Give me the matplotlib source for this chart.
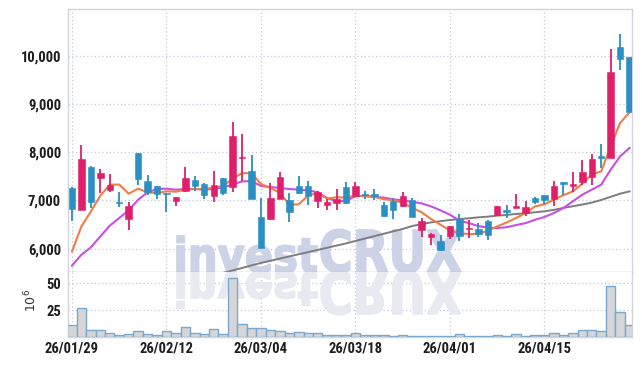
import numpy as np
import matplotlib
matplotlib.use("Agg")
import matplotlib.pyplot as plt
from matplotlib import font_manager as fm
from matplotlib.textpath import TextPath
from matplotlib.font_manager import FontProperties
from matplotlib.patches import PathPatch
from matplotlib.transforms import Affine2D

# ---------------- data ----------------
opens = [7260, 6810, 7700, 7460, 7210, 6960, 6610, 7980, 7410, 7290,
         7150, 6990, 7200, 7420, 7350, 7090, 7465, 7270, 7880, 7620,
         6650, 6620, 7040, 7000, 7300, 7300, 6980, 6905, 6940, 7270,
         7100, 7125, 7135, 6910, 6980, 6880, 7015, 6380, 6235, 6150,
         6255, 6615, 6400, 6415, 6580, 6690, 6810, 6845, 6740, 7057,
         7110, 7030, 7375, 7290, 7375, 7480, 7915, 7890, 10190, 9965]
highs = [7270, 8140, 7710, 7650, 7540, 7170, 6970, 7990, 7530, 7300,
         7160, 7080, 7690, 7510, 7370, 7600, 7470, 8620, 8380, 7950,
         7050, 7360, 7580, 7150, 7500, 7400, 7200, 7030, 7245, 7375,
         7375, 7190, 7240, 6970, 7050, 7175, 7050, 6635, 6320, 6290,
         6480, 6715, 6600, 6530, 6590, 6880, 6910, 7135, 6980, 7065,
         7115, 7395, 7385, 7580, 7830, 7960, 8175, 10140, 10455, 9970]
lows = [6570, 6800, 6840, 7150, 7180, 6860, 6390, 7310, 7120, 7040,
        6770, 6890, 7180, 7190, 7030, 6975, 7110, 7180, 7400, 7030,
        6010, 6600, 7030, 6545, 7140, 6910, 6840, 6810, 6810, 6930,
        7090, 7030, 7015, 6660, 6615, 6870, 6650, 6240, 6080, 5960,
        6200, 6165, 6220, 6240, 6170, 6680, 6640, 6840, 6685, 6930,
        6930, 6880, 7120, 7170, 7325, 7320, 7670, 7880, 9695, 8830]
closes = [6830, 7850, 6960, 7560, 7330, 6940, 6890, 7450, 7170, 7140,
          7130, 7070, 7465, 7290, 7105, 7320, 7155, 8340, 7900, 7040,
          6015, 7050, 7490, 6770, 7150, 7085, 7170, 6960, 7040, 6940,
          7305, 7115, 7095, 6685, 6810, 7085, 6660, 6565, 6310, 5965,
          6477, 6255, 6415, 6305, 6275, 6877, 6760, 6890, 6865, 6975,
          7000, 7305, 7340, 7340, 7580, 7860, 7875, 9655, 9940, 8835]
volumes = [11.4, 26.9, 6.5, 6.5, 3.7, 1.9, 2.8, 5.6, 2.8, 1.9,
           5.6, 3.7, 9.3, 3.7, 2.8, 7.4, 2.8, 54.6, 12.0, 8.3,
           8.3, 6.5, 5.6, 4.0, 4.9, 4.0, 3.4, 1.9, 1.9, 1.9,
           3.7, 1.9, 1.9, 1.9, 0.9, 1.9, 0.9, 0.9, 0.9, 0.9,
           0.9, 2.8, 0.9, 0.9, 0.9, 1.9, 0.9, 2.8, 0.9, 1.9,
           1.9, 3.7, 1.9, 3.7, 6.5, 6.5, 5.6, 47.5, 23.1, 11.1]
ma_short = [5944, 6462, 6773, 7098, 7326, 7330, 7140, 7244, 7168, 7154,
            7190, 7181, 7223, 7237, 7237, 7265, 7300, 7450, 7569, 7560,
            7340, 7258, 7160, 6912, 6920, 7105, 7154, 7040, 7065, 7060,
            7098, 7085, 7075, 7025, 7005, 6947, 6850, 6755, 6615, 6497,
            6379, 6318, 6305, 6304, 6373, 6462, 6545, 6636, 6740, 6877,
            6920, 7015, 7110, 7188, 7347, 7534, 7603, 8121, 8605, 8825]
ma_mid = [5648, 5876, 6028, 6255, 6477, 6636, 6794, 7015, 7168, 7237,
          7244, 7223, 7237, 7237, 7223, 7237, 7270, 7330, 7395, 7400,
          7300, 7278, 7258, 7237, 7223, 7209, 7168, 7050, 6981, 6998,
          7085, 7100, 7071, 7060, 7023, 7001, 6970, 6940, 6877, 6794,
          6705, 6580, 6530, 6470, 6435, 6428, 6445, 6490, 6530, 6600,
          6657, 6740, 6843, 6981, 7119, 7223, 7326, 7637, 7914, 8087]
ma_long = [np.nan] * 16 + [5500, 5550, 5600, 5655,
           5705, 5750, 5795, 5840, 5885, 5930, 5975, 6020, 6065, 6110,
           6160, 6210, 6260, 6310, 6360, 6410, 6470, 6510, 6545, 6570,
           6595, 6615, 6630, 6650, 6665, 6685, 6700, 6720, 6735, 6755,
           6775, 6805, 6845, 6880, 6915, 6955, 7010, 7075, 7140, 7188]
tick_idx = [0, 10, 20, 30, 40, 50]
tick_labels = ['26/01/29', '26/02/12', '26/03/04', '26/03/18', '26/04/01', '26/04/15']
price_ticks = [6000, 7000, 8000, 9000, 10000]
vol_ticks = [25, 50]

# ---------------- style ----------------
W, H = 642, 366
names = {f.name for f in fm.fontManager.ttflist}
if 'Liberation Sans Narrow' in names:
    tfont = 'Liberation Sans Narrow'
elif 'Roboto Condensed' in names:
    tfont = 'Roboto Condensed'
else:
    tfont = 'DejaVu Sans'

RED = '#e01f6a'
BLUE = '#2a8fc3'
GRID = '#c6c9dc'
SPINE = '#d2d4de'

fig = plt.figure(figsize=(W / 100, H / 100), dpi=100)
fig.patch.set_facecolor('white')

def px_axes(l, t, r, b):
    return fig.add_axes([l / W, 1 - b / H, (r - l) / W, (b - t) / H])

ax1 = px_axes(68, 9, 632, 272)
ax2 = px_axes(68, 272, 632, 337)

n = len(opens)
x = np.arange(n)
xlim = (-0.42, 59.26)

for ax in (ax1, ax2):
    ax.set_xlim(*xlim)
    ax.set_facecolor('white')
    ax.set_xticks(tick_idx)
    ax.grid(True, color=GRID, linestyle=(0, (1, 2)), linewidth=0.9)
    ax.set_axisbelow(True)
    ax.tick_params(length=0)
    for s in ax.spines.values():
        s.set_color(SPINE)
        s.set_linewidth(1.0)

ax1.set_ylim(5517, 10968)
ax1.set_yticks(price_ticks)
ax1.set_yticklabels([f'{v:,}' for v in price_ticks])
ax1.set_xticklabels([])
ax1.spines['bottom'].set_color('#b9bbc6')

ax2.set_ylim(0, 60.2)
ax2.set_yticks(vol_ticks)
ax2.set_yticklabels([str(v) for v in vol_ticks])
ax2.set_xticklabels(tick_labels)
ax2.spines['top'].set_visible(False)

for lab in ax1.get_yticklabels() + ax2.get_yticklabels() + ax2.get_xticklabels():
    lab.set_fontfamily(tfont)
    lab.set_fontweight('bold')
    lab.set_fontsize(10.5)
    lab.set_color('#1e1e1e')
ax1.tick_params(axis='y', pad=5)
ax2.tick_params(axis='y', pad=5)
ax2.tick_params(axis='x', pad=3)

fig.text(31 / W, 1 - 300 / H, r'$10^6$', rotation=90, ha='center', va='center',
         fontsize=9, color='#333333')

# ---------------- watermark ----------------
fp = FontProperties(family='DejaVu Sans', weight='bold')
base = H - 272

def wm_piece(text, x0, x1, height, ref_h, ax, color, flip):
    tp = TextPath((0, 0), text, size=1, prop=fp)
    ext = tp.get_extents()
    sy = height / ref_h
    sx = (x1 - x0) / ext.width
    tr = (Affine2D().translate(-ext.x0, 0)
          .scale(sx, -sy if flip else sy)
          .translate(x0, base).scale(1 / W, 1 / H))
    p = PathPatch(tr.transform_path(tp), transform=fig.transFigure,
                  facecolor=color, edgecolor=color, linewidth=1.2, zorder=0.6)
    ax.add_patch(p)

for ax, col, flip in ((ax1, '#cdd3e7', False), (ax2, '#e8e9f1', True)):
    wm_piece('invest', 177, 317, 26, 0.547, ax, col, flip)
    wm_piece('CRUX', 321, 461, 42, 0.729, ax, col, flip)

# ---------------- candles ----------------
o = np.array(opens, float)
c = np.array(closes, float)
hi = np.array(highs, float)
lo = np.array(lows, float)
cols = [RED if cc >= oo else BLUE for oo, cc in zip(o, c)]
ax1.vlines(x, lo, hi, colors=cols, linewidth=1.3, zorder=3)
bottoms = np.minimum(o, c)
heights = np.maximum(np.abs(c - o), 25)
ax1.bar(x, heights, bottom=bottoms, width=0.68, color=cols, edgecolor=cols,
        linewidth=0.4, zorder=4)

ax1.plot(x, ma_long, color='#7d7d7d', linewidth=1.4, zorder=2.5)
ax1.plot(x, ma_mid, color='#c94fe4', linewidth=1.5, zorder=2.7)
ax1.plot(x, ma_short, color='#ef7d45', linewidth=1.5, zorder=2.8)

# ---------------- volume ----------------
ax2.bar(x, volumes, width=1.0, color='#d6d6d8', edgecolor='#79a9d0',
        linewidth=1.0, zorder=3)

fig.savefig('out.png', dpi=100, facecolor='white')
